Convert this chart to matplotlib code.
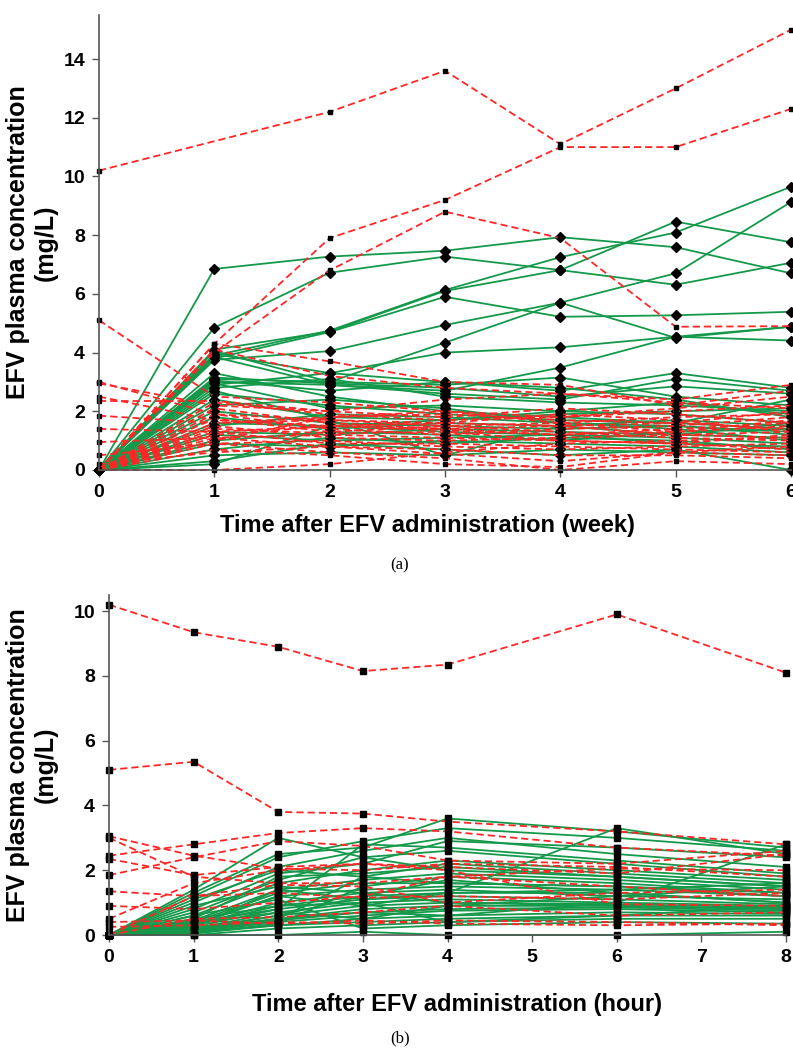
import matplotlib
matplotlib.use('Agg')
import matplotlib.pyplot as plt

# ---- data: panel (a), weeks ----
weeks = [0, 1, 2, 3, 4, 5, 6]

green_a = [
	[0, 6.85, 7.27, 7.47, 7.93, 7.59, 6.70],
	[0, 4.85, 6.72, 7.27, 6.81, 6.31, 7.06],
	[0, 3.90, 4.75, 6.13, 7.25, 8.09, 9.65],
	[0, 3.80, 4.70, 5.90, 5.22, 5.27, 5.39],
	[0, 3.75, 4.05, 4.94, 5.70, 6.70, 9.13],
	[0, 4.10, 4.72, 6.10, 6.81, 8.46, 7.76],
	[0, 2.90, 3.30, 4.00, 4.18, 4.54, 4.41],
	[0, 3.10, 3.00, 4.34, 5.70, 4.50, 4.88],
	[0, 3.00, 2.90, 2.70, 3.49, 4.54, 4.88],
	[0, 4.05, 3.00, 2.90, 3.15, 2.50, 2.20],
	[0, 3.95, 3.30, 3.00, 2.70, 3.30, 2.80],
	[0, 3.85, 2.90, 2.60, 2.40, 3.10, 2.70],
	[0, 3.15, 2.95, 2.80, 2.50, 2.85, 2.60],
	[0, 3.05, 2.70, 3.00, 2.80, 2.40, 1.80],
	[0, 2.95, 2.10, 2.20, 2.00, 1.90, 1.60],
	[0, 2.80, 3.10, 2.50, 2.30, 2.20, 2.00],
	[0, 2.60, 2.20, 1.90, 1.70, 1.60, 1.40],
	[0, 2.40, 1.80, 1.70, 1.90, 2.00, 2.10],
	[0, 2.20, 2.40, 2.10, 1.60, 1.50, 1.30],
	[0, 2.00, 1.60, 1.50, 1.40, 1.50, 1.20],
	[0, 1.80, 1.40, 1.60, 1.50, 1.70, 1.50],
	[0, 1.60, 1.50, 1.30, 1.20, 1.10, 0.90],
	[0, 1.50, 1.90, 1.80, 1.60, 1.40, 1.00],
	[0, 1.30, 1.20, 1.40, 1.30, 1.20, 1.10],
	[0, 1.20, 1.00, 1.10, 1.20, 0.90, 0.80],
	[0, 1.00, 1.30, 1.20, 1.00, 1.30, 1.40],
	[0, 0.90, 0.80, 1.00, 0.90, 0.80, 0.60],
	[0, 0.70, 1.10, 0.90, 1.10, 1.00, 0.70],
	[0, 0.50, 0.60, 0.50, 0.70, 0.60, 0.50],
	[0, 0.30, 0.90, 0.70, 0.50, 0.70, 0.00],
	[0, 0.20, 1.50, 1.70, 2.00, 2.30, 1.90],
	[0, 2.70, 1.70, 0.50, 1.50, 1.20, 1.60],
	[0, 3.30, 2.50, 2.00, 1.80, 1.60, 2.40],
]

red_a = [
	[10.2, None, 12.2, 13.6, 11.1, 13.0, 15.0],
	[0, 4.30, 7.90, 9.20, 11.0, 11.0, 12.3],
	[0, 4.00, 6.80, 8.80, 7.90, 4.88, 4.90],
	[5.1, 2.50, 2.30, 2.00, 1.80, 2.10, 2.50],
	[3.0, 1.90, 1.70, 1.50, 1.60, 1.30, 1.70],
	[2.95, 2.20, 2.00, 2.40, 2.60, 2.30, 2.10],
	[2.5, 1.70, 1.50, 1.40, 1.20, 1.30, 1.50],
	[2.35, 2.35, 2.00, 1.80, 2.10, 1.90, 1.60],
	[1.85, 1.60, 1.80, 1.90, 1.70, 1.60, 2.00],
	[1.4, 1.30, 1.50, 1.60, 1.50, 1.20, 1.10],
	[0.95, 1.10, 1.20, 1.10, 1.00, 0.90, 1.20],
	[0.5, 0.90, 1.00, 0.80, 0.70, 0.80, 0.90],
	[0.2, 0.60, 0.80, 0.55, 0.30, 0.60, 0.80],
	[0, 4.30, 3.70, 3.00, 2.90, 2.20, 2.70],
	[0, 4.10, 3.20, 2.80, 2.60, 2.40, 2.90],
	[0, 2.30, 1.90, 1.70, 1.80, 2.00, 2.20],
	[0, 2.10, 1.60, 1.40, 1.50, 1.60, 1.40],
	[0, 1.90, 1.40, 1.20, 1.40, 1.50, 1.80],
	[0, 1.75, 1.30, 1.50, 1.30, 1.10, 1.00],
	[0, 1.60, 1.70, 1.60, 1.90, 1.70, 1.30],
	[0, 1.50, 1.10, 1.00, 1.10, 1.20, 1.30],
	[0, 1.40, 1.25, 1.30, 1.00, 0.90, 0.70],
	[0, 1.30, 0.90, 0.90, 0.80, 0.70, 0.60],
	[0, 1.20, 1.50, 1.35, 1.20, 1.40, 1.60],
	[0, 1.10, 0.80, 0.70, 0.50, 0.50, 0.40],
	[0, 0.90, 0.60, 0.40, 0.00, 0.30, 0.20],
	[0, 0.70, 0.50, 0.20, 0.10, 0.60, 0.50],
	[0, 0.00, 0.20, 0.60, 0.90, 1.00, 1.10],
	[0, 1.00, 1.80, 2.00, 1.60, 1.80, 1.90],
]

# ---- data: panel (b), hours ----
hours = [0, 1, 2, 3, 4, 6, 8]

green_b = [
	[0, 1.40, 3.00, 2.40, 2.00, 1.80, 1.50],
	[0, 1.30, 2.50, 2.70, 3.60, 3.20, 2.70],
	[0, 1.20, 2.40, 2.90, 3.30, 3.00, 2.60],
	[0, 1.00, 2.10, 2.60, 3.00, 2.50, 2.10],
	[0, 0.80, 1.90, 2.20, 2.90, 2.70, 2.40],
	[0, 0.70, 1.70, 2.40, 2.60, 2.20, 1.80],
	[0, 0.60, 1.60, 2.00, 2.30, 2.00, 1.70],
	[0, 0.50, 1.80, 1.90, 2.10, 1.80, 1.50],
	[0, 0.45, 1.40, 1.70, 1.90, 1.70, 1.40],
	[0, 0.40, 1.30, 1.60, 1.60, 1.50, 1.30],
	[0, 0.35, 1.20, 1.40, 1.50, 1.40, 1.20],
	[0, 0.30, 1.00, 1.30, 1.40, 1.20, 1.10],
	[0, 0.30, 0.90, 1.20, 1.30, 1.30, 1.00],
	[0, 0.25, 0.80, 1.10, 1.20, 1.10, 0.95],
	[0, 0.20, 0.70, 1.00, 1.10, 1.00, 0.90],
	[0, 0.20, 0.60, 0.90, 1.00, 0.95, 0.85],
	[0, 0.15, 0.50, 0.80, 0.90, 0.90, 0.80],
	[0, 0.10, 0.45, 0.70, 0.80, 0.85, 0.75],
	[0, 0.10, 0.40, 0.60, 0.75, 0.80, 0.70],
	[0, 0.05, 0.30, 0.50, 0.60, 0.70, 0.65],
	[0, 0.05, 0.35, 1.50, 1.80, 1.60, 1.30],
	[0, 0.10, 0.30, 0.40, 0.50, 0.60, 0.60],
	[0, 0.00, 0.20, 0.30, 0.40, 0.50, 0.50],
	[0, 0.00, 0.00, 0.10, 0.00, 0.00, 0.10],
	[0, 0.60, 1.10, 0.20, 0.30, 0.40, 0.35],
	[0, 0.90, 1.50, 1.30, 1.00, 0.90, 0.80],
	[0, 1.10, 2.00, 1.80, 1.60, 1.50, 1.20],
	[0, 0.40, 0.80, 2.80, 2.70, 2.30, 1.90],
	[0, 0.20, 0.50, 1.80, 2.20, 1.90, 1.60],
	[0, 0.15, 0.60, 1.20, 1.70, 1.30, 1.00],
	[0, 0.30, 1.20, 0.90, 1.30, 3.30, 2.50],
	[0, 0.10, 0.50, 0.70, 0.60, 1.00, 2.80],
	[0, 0.50, 0.90, 1.00, 0.40, 0.60, 0.90],
	[0, 0.35, 0.70, 0.50, 0.90, 1.20, 1.50],
	[0, 0.25, 1.40, 1.10, 1.30, 1.40, 1.60],
]

red_b = [
	[10.2, 9.35, 8.90, 8.15, 8.35, 9.90, 8.10],
	[5.1, 5.35, 3.80, 3.75, 3.50, 3.20, 2.80],
	[3.05, 2.45, 2.05, 2.00, 2.20, 2.10, 1.80],
	[3.0, 1.80, 1.60, 1.60, 1.80, 1.50, 1.20],
	[2.45, 2.80, 3.15, 3.30, 3.20, 2.70, 2.45],
	[2.35, 1.85, 2.10, 2.20, 2.10, 1.90, 2.50],
	[1.85, 2.40, 2.90, 2.75, 2.30, 2.20, 2.60],
	[1.35, 1.20, 1.55, 1.50, 1.00, 1.30, 1.40],
	[0.9, 0.80, 1.00, 1.20, 1.80, 2.05, 2.00],
	[0.5, 1.60, 2.00, 2.20, 2.00, 0.95, 0.90],
	[0.4, 0.45, 0.35, 0.45, 0.35, 0.30, 0.35],
	[0.25, 0.30, 0.40, 0.35, 0.45, 0.40, 0.30],
	[0, 0.50, 0.55, 0.70, 0.90, 0.60, 0.70],
	[0, 1.20, 1.30, 1.15, 1.20, 1.10, 1.30],
]

GREEN = '#14994a'
RED = '#ff2626'
SANS = ['Liberation Sans', 'DejaVu Sans']


def draw(ax, xs, series, color, dashed, marker, msize):
	for s in series:
		px = [x for x, v in zip(xs, s) if v is not None]
		py = [v for v in s if v is not None]
		ln, = ax.plot(px, py, color=color, lw=1.3, ls='--' if dashed else '-',
					  marker=marker, ms=msize, mfc='black', mec='black', clip_on=False)
		if dashed:
			ln.set_dashes((4, 2.2))


def style(ax, xmax, ymax, yticks, xlabel, xlab_pos, ylab_x):
	ax.set_xlim(0, xmax)
	ax.set_ylim(0, ymax)
	ax.set_xticks(range(0, xmax + 1))
	ax.set_yticks(yticks)
	for side in ['top', 'right']:
		ax.spines[side].set_visible(False)
	for side in ['left', 'bottom']:
		ax.spines[side].set_color('#555555')
		ax.spines[side].set_linewidth(1.2)
	ax.tick_params(direction='out', length=5, width=1, color='#555555', pad=5)
	for lab in ax.get_xticklabels() + ax.get_yticklabels():
		lab.set_fontfamily(SANS)
		lab.set_fontweight('bold')
		lab.set_fontsize(14)
	ax.set_xlabel(xlabel, fontsize=17, fontweight='bold', family=SANS)
	ax.xaxis.set_label_coords(*xlab_pos)
	ax.set_ylabel('EFV plasma concentration\n(mg/L)', fontsize=18, fontweight='bold',
				  family=SANS, multialignment='center', linespacing=1.2)
	ax.yaxis.set_label_coords(ylab_x, 0.5)


fig = plt.figure(figsize=(7.93, 10.51), dpi=100)

ax1 = fig.add_axes([99 / 793, 1 - 470 / 1051, 692 / 793, 455 / 1051])
draw(ax1, weeks, green_a, GREEN, False, 'D', 5)
draw(ax1, weeks, red_a, RED, True, 's', 3.5)
style(ax1, 6, 15.5, [0, 2, 4, 6, 8, 10, 12, 14],
	  'Time after EFV administration (week)', (0.475, -0.097), -0.06)

ax2 = fig.add_axes([109 / 793, 1 - 935 / 1051, 677 / 793, 340 / 1051])
draw(ax2, hours, green_b, GREEN, False, 's', 4)
draw(ax2, hours, red_b, RED, True, 's', 4)
style(ax2, 8, 10.5, [0, 2, 4, 6, 8, 10],
	  'Time after EFV administration (hour)', (0.514, -0.17), -0.076)

fig.text(400 / 793, 1 - 565 / 1051, '(a)', ha='center', va='center',
		 family=['Liberation Serif', 'DejaVu Serif'], fontsize=12)
fig.text(400 / 793, 1 - 1038 / 1051, '(b)', ha='center', va='center',
		 family=['Liberation Serif', 'DejaVu Serif'], fontsize=12)

fig.savefig('out.png', dpi=100)
